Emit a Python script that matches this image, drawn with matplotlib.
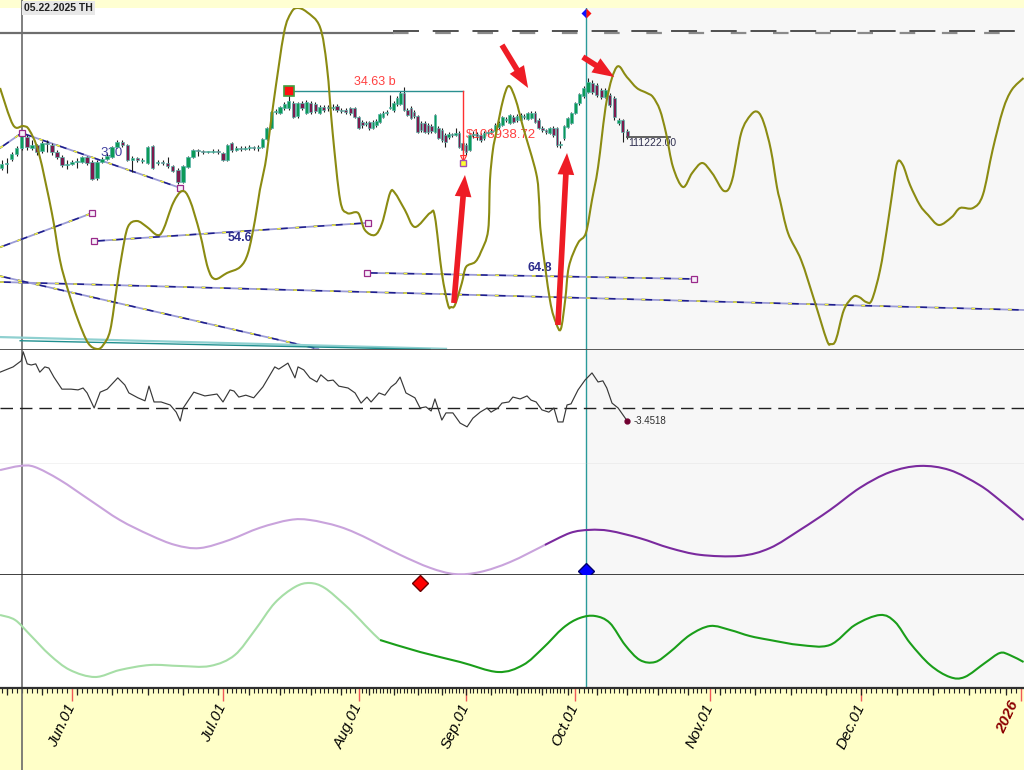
import numpy as np
import matplotlib
matplotlib.use('Agg')
import matplotlib.pyplot as plt
from matplotlib.patches import Rectangle, FancyArrowPatch, PathPatch
from matplotlib.path import Path

plt.rcParams['font.family'] = ['Liberation Sans', 'DejaVu Sans']

# ---------------- data (day 0 = 2025-06-01, prices in thousand USD) ----------------
first_day = -14
opens = [103.6, 104.6, 105.8, 107.0, 108.5, 111.2, 108.5, 109.3, 107.8, 109.7,
         109.3, 107.5, 106.3, 104.3, 104.6, 105.1, 105.1, 106.3, 105.1, 101.1,
         105.1, 105.8, 106.3, 108.8, 110.0, 109.3, 105.6, 106.1, 105.3, 104.8,
         109.0, 104.8, 105.1, 104.8, 104.1, 103.1, 100.1, 103.8, 106.3, 108.0,
         107.8, 107.5, 107.5, 107.8, 107.3, 105.6, 109.7, 108.0, 108.5, 108.3,
         108.5, 108.8, 108.5, 108.8, 110.7, 113.4, 117.4, 117.1, 118.4, 118.4,
         119.6, 116.4, 119.6, 117.1, 119.6, 119.3, 117.1, 118.6, 118.4, 118.4,
         118.8, 117.9, 117.9, 118.4, 118.4, 116.1, 114.9, 114.4, 114.9, 113.4,
         114.2, 114.9, 116.1, 117.1, 118.4, 117.9, 119.3, 119.3, 122.0, 117.9,
         118.4, 117.4, 116.4, 114.7, 114.7, 114.2, 113.9, 112.5, 113.4, 112.9,
         111.7, 111.2, 112.0, 111.7, 112.2, 109.7, 109.3, 108.0, 111.7, 112.0,
         111.7, 111.0, 112.2, 112.5, 112.7, 113.7, 114.2, 115.4, 114.7, 116.1,
         115.4, 115.4, 116.4, 115.7, 115.9, 117.1, 115.4, 113.4, 112.9, 112.2,
         113.4, 113.4, 109.3, 110.9, 113.7, 114.7, 117.1, 119.6, 121.3, 122.3,
         124.5, 124.0, 122.8, 121.1, 121.6, 120.8, 114.7, 115.4, 112.7]
highs = [105.6, 106.1, 107.5, 109.0, 112.2, 111.7, 110.5, 109.5, 110.2, 110.5,
         109.7, 108.0, 106.8, 105.6, 105.6, 106.1, 106.5, 106.5, 105.6, 105.6,
         106.3, 107.3, 109.0, 110.5, 110.5, 109.5, 106.5, 106.3, 106.1, 109.0,
         109.3, 105.6, 105.6, 106.3, 104.3, 103.6, 104.3, 106.5, 108.3, 108.3,
         108.0, 107.8, 108.3, 108.3, 107.5, 109.5, 110.0, 109.0, 109.0, 109.0,
         109.3, 109.0, 109.3, 111.0, 113.7, 117.6, 118.1, 118.8, 119.8, 122.8,
         120.1, 119.8, 120.1, 120.3, 120.1, 119.8, 119.1, 119.1, 119.1, 119.3,
         119.3, 118.4, 118.4, 118.6, 118.6, 116.4, 115.4, 115.2, 115.2, 115.4,
         115.6, 117.1, 117.6, 117.9, 121.6, 120.1, 121.3, 122.5, 123.5, 118.4,
         118.8, 117.9, 116.6, 115.2, 115.2, 114.7, 114.4, 116.9, 113.9, 113.4,
         112.2, 112.5, 112.2, 113.4, 112.7, 110.2, 109.7, 111.9, 112.7, 112.5,
         112.2, 112.7, 112.9, 113.4, 114.7, 115.2, 116.4, 116.1, 116.9, 116.6,
         116.9, 117.1, 116.9, 117.4, 117.6, 117.6, 115.9, 113.9, 113.2, 113.7,
         113.9, 113.7, 110.2, 114.2, 116.1, 117.4, 119.8, 122.0, 123.8, 125.7,
         125.2, 124.5, 123.3, 123.3, 122.0, 121.3, 115.9, 115.7, 113.2]
lows = [103.1, 102.4, 105.3, 106.5, 108.0, 108.0, 108.0, 106.8, 107.3, 107.5,
        106.8, 105.8, 103.8, 103.4, 104.3, 103.6, 104.8, 104.3, 100.6, 100.6,
        104.8, 105.6, 106.1, 108.5, 108.8, 105.3, 102.6, 105.1, 104.8, 104.6,
        103.4, 104.3, 104.3, 103.6, 102.6, 99.6, 99.9, 103.6, 106.1, 106.5,
        107.0, 107.3, 107.3, 107.0, 105.3, 105.3, 107.5, 107.8, 107.8, 108.0,
        108.0, 108.0, 107.8, 108.5, 110.5, 113.2, 116.9, 116.9, 117.9, 117.9,
        115.9, 115.9, 117.9, 116.9, 116.9, 117.1, 116.9, 117.4, 117.6, 117.9,
        117.4, 117.1, 116.9, 116.6, 115.9, 113.2, 113.4, 113.9, 112.9, 113.2,
        113.7, 114.7, 115.9, 116.6, 118.1, 117.4, 118.8, 119.1, 117.6, 116.4,
        115.6, 115.9, 112.2, 112.5, 112.2, 112.0, 112.2, 112.2, 110.7, 110.0,
        108.8, 110.7, 111.2, 111.5, 108.5, 107.3, 106.8, 107.8, 111.0, 110.5,
        110.0, 110.5, 111.5, 112.0, 112.5, 113.2, 113.9, 114.9, 114.4, 114.7,
        114.9, 115.2, 115.7, 115.4, 115.7, 114.7, 113.2, 112.5, 112.0, 112.0,
        111.2, 108.8, 108.5, 110.5, 113.4, 114.4, 116.9, 119.1, 120.8, 122.0,
        121.8, 121.1, 120.6, 120.8, 118.6, 115.4, 114.2, 110.0, 110.7]
closes = [104.6, 104.8, 107.0, 108.5, 111.7, 108.8, 109.3, 107.5, 109.7, 109.5,
          107.5, 106.3, 104.3, 104.6, 105.1, 105.3, 106.3, 104.8, 100.9, 105.1,
          105.8, 106.5, 108.8, 110.0, 109.3, 105.6, 106.1, 105.6, 105.6, 108.8,
          103.6, 105.1, 104.8, 104.1, 102.9, 100.1, 104.1, 106.3, 108.0, 107.8,
          107.5, 107.6, 107.8, 107.5, 105.6, 109.3, 108.0, 108.5, 108.3, 108.5,
          108.8, 108.5, 108.8, 110.7, 113.4, 117.4, 117.6, 118.6, 119.3, 120.1,
          116.1, 119.6, 118.4, 119.8, 117.4, 117.6, 118.6, 117.9, 118.3, 118.6,
          117.9, 117.6, 117.4, 117.1, 116.1, 113.4, 114.2, 114.7, 113.4, 114.9,
          115.2, 116.9, 117.1, 117.4, 118.6, 119.6, 120.8, 122.0, 117.9, 116.6,
          115.9, 116.4, 112.5, 112.9, 112.5, 112.5, 112.7, 116.6, 111.0, 110.5,
          110.0, 112.0, 111.7, 112.2, 108.8, 108.0, 107.5, 111.7, 112.0, 111.5,
          110.5, 112.2, 112.5, 112.7, 114.2, 114.7, 116.1, 115.7, 116.6, 114.9,
          116.4, 116.6, 116.1, 117.1, 117.1, 114.9, 113.4, 112.9, 112.5, 113.4,
          111.7, 109.3, 109.5, 113.9, 115.9, 117.1, 119.6, 121.8, 123.3, 124.8,
          122.3, 121.6, 121.1, 122.8, 119.1, 116.1, 115.4, 112.5, 111.2]
last_price = 111222.00

# cycle forecast line drawn over the price pane
olive_days = [-14.3, -11.7, -9.7, -8.5, -6.6, -4.0, -2.4, -0.8, 1.2, 3.2,
              5.0, 6.2, 7.6, 8.9, 9.9, 11.1, 12.9, 14.9, 16.9, 18.1,
              20.1, 21.9, 23.4, 25.4, 27.0, 28.4, 30.9, 33.9, 35.7, 37.3,
              38.4, 39.6, 40.3, 41.6, 43.9, 45.5, 46.9, 49.1, 52.1, 53.7,
              55.0, 56.7, 58.3, 60.8, 62.7, 65.6, 67.7, 70.0, 71.4, 74.3,
              77.2, 81.6, 83.0, 85.0, 86.8, 87.7, 88.8, 90.8, 92.0, 94.5,
              96.1, 98.1, 98.6, 99.4, 100.3, 102.2, 103.8, 105.7, 107.7, 111.3,
              112.1, 112.6, 115.1, 116.8, 118.1, 119.3, 120.3, 122.7, 124.5, 125.9,
              127.3, 129.3, 131.6, 133.9, 136.2, 138.5, 139.9, 141.5, 142.9, 144.5,
              146.8, 148.9, 151.2, 153.4, 155.8, 157.4, 159.2, 161.1, 162.5, 163.7,
              165.1, 166.3, 166.9, 168.5, 171.1, 173.7, 176.2, 177.0, 178.0, 179.6,
              181.4, 182.6, 184.0, 185.1, 186.7, 188.0, 189.0, 190.0, 191.1, 192.5,
              194.4, 196.0, 198.1, 200.6, 202.2, 204.7, 206.6, 208.5, 210.5, 212.2,
              214.5]
olive_vals = [92, 55, 54, 50, 27, -33, -80, -110, -140, -163,
              -169, -165, -150, -107, -75, -47, -41, -47, -55, -50,
              -23, -11, -20, -53, -88, -99, -93, -87, -73, -40,
              -10, 15, 37, 80, 147, 167, 172, 168, 153, 113,
              47, -20, -33, -33, -50, -55, -43, -13, -13, -30,
              -47, -33, -37, -93, -125, -127, -125, -103, -87, -82,
              -72, -50, 0, 30, 47, 80, 94, 80, 53, 7,
              -20, -53, -120, -143, -149, -120, -87, -63, -53, -20,
              13, 80, 113, 103, 92, 87, 83, 70, 47, 13,
              -7, 7, 17, 7, -11, 0, 47, 65, 68, 57,
              30, -7, -20, -53, -80, -120, -160, -164, -160, -130,
              -117, -117, -122, -120, -90, -50, -15, 17, 15, -5,
              -25, -35, -45, -37, -28, -28, -15, 30, 70, 90,
              102]

# oscillator pane
osc_days = [-14.3, -11.7, -10.1, -9.7, -8.9, -8.1, -7.2, -6.4, -5.4, -4.6,
            -3.6, -2.0, -0.2, 1.2, 2.2, 3.0, 4.4, 5.6, 7.0, 9.1,
            10.5, 11.3, 13.1, 14.5, 15.3, 16.3, 17.7, 19.5, 20.7, 21.5,
            22.1, 24.2, 26.4, 28.8, 30.0, 31.6, 32.5, 33.6, 35.2, 37.0,
            39.1, 41.8, 42.7, 44.8, 46.4, 47.1, 48.4, 49.8, 51.4, 52.3,
            53.9, 55.1, 56.4, 58.5, 60.1, 61.6, 63.3, 64.5, 66.8, 68.5,
            70.3, 71.7, 72.9, 74.6, 77.2, 78.7, 80.4, 81.9, 83.0, 85.0,
            86.2, 88.2, 90.3, 92.3, 93.9, 95.9, 97.8, 98.9, 100.8, 101.9,
            103.8, 104.9, 106.9, 108.8, 109.9, 111.3, 112.9, 114.8, 116.2, 117.3,
            118.7, 119.8, 120.9, 122.7, 124.3, 125.9, 127.3, 128.4, 129.3, 130.5,
            131.9, 134.0]
osc_vals = [9.5, 10.9, 12.5, 14.9, 11.7, 11.4, 11.7, 9.5, 10.9, 10.6,
            8.2, 5.0, 5.0, 4.8, 5.3, 4.0, 0.0, 4.2, 5.0, 8.0,
            6.1, 4.0, 2.7, 1.9, 5.8, 1.6, 1.6, 0.8, -1.1, -3.45,
            0.0, 4.2, 3.2, 3.7, 1.6, 4.8, 4.5, 2.9, 3.4, 2.7,
            5.6, 10.9, 10.3, 11.9, 8.0, 10.9, 10.1, 8.0, 6.9, 8.8,
            7.2, 7.4, 5.8, 5.3, 4.0, 1.3, 2.9, 1.6, 4.0, 3.4,
            5.6, 6.6, 8.2, 4.0, 2.7, 0.0, 0.3, -0.8, 2.4, -3.2,
            -1.3, -1.3, -4.0, -5.0, -2.7, -1.1, 0.0, -1.1, 0.0, 1.3,
            1.6, 2.9, 2.4, 3.2, 2.1, 1.6, -0.5, -1.1, 0.0, -3.7,
            -3.7, 0.8, 1.1, 4.8, 7.4, 9.3, 6.9, 7.2, 5.3, 1.3,
            0.0, -3.4518]

# dominant cycle pane (purple)
cycle_days = [-14.3, -10.3, -7.4, -2.4, 3.6, 9.5, 15.5, 20.5, 25.4, 31.6,
              38.4, 45.2, 49.8, 56.6, 64.2, 72.9, 81.6, 88.8, 95.9, 104.1,
              113.7, 120.6, 125.4, 130.0, 136.9, 143.8, 150.7, 159.0, 164.9, 170.9,
              176.8, 182.8, 188.6, 194.4, 200.2, 206.0, 209.9, 214.5]
cycle_vals = [0.96, 1.04, 1.02, 0.77, 0.38, 0.0, -0.29, -0.48, -0.54, -0.38,
              -0.15, 0.0, 0.0, -0.13, -0.38, -0.67, -0.92, -1.04, -1.0, -0.81,
              -0.48, -0.25, -0.19, -0.21, -0.35, -0.54, -0.67, -0.69, -0.54, -0.19,
              0.19, 0.62, 0.92, 1.04, 0.96, 0.67, 0.38, 0.0]
cycle_split = 113.7

# composite cycle pane (green)
green_days = [-14.3, -11.3, -8.3, -4.4, -0.4, 4.6, 9.5, 15.5, 21.5, 27.4,
              32.7, 37.3, 41.8, 46.4, 49.8, 53.2, 57.8, 62.7, 67.1, 78.7,
              90.3, 100.8, 107.7, 113.2, 118.7, 123.1, 126.6, 130.0, 133.5, 136.9,
              140.4, 143.8, 148.4, 153.0, 157.0, 160.9, 164.9, 170.9, 176.8, 181.8,
              186.7, 189.6, 192.5, 196.4, 200.2, 203.1, 207.0, 209.9, 211.8, 214.5]
green_vals = [0.3, 0.2, -0.1, -0.5, -0.8, -0.94, -0.8, -0.7, -0.72, -0.72,
              -0.5, 0.0, 0.54, 0.86, 0.94, 0.84, 0.5, 0.1, -0.2, -0.44,
              -0.64, -0.84, -0.7, -0.36, 0.04, 0.24, 0.28, 0.14, -0.3, -0.6,
              -0.64, -0.44, -0.1, 0.08, 0.0, -0.12, -0.2, -0.3, -0.3, 0.1,
              0.3, 0.16, -0.26, -0.7, -0.94, -0.94, -0.66, -0.46, -0.5, -0.64]
green_split = 67.1

month_days = [0, 30, 61, 92, 122, 153, 183, 214]
month_labels = ['Jun.01', 'Jul.01', 'Aug.01', 'Sep.01', 'Oct.01', 'Nov.01', 'Dec.01', '2026']
marked_day = -10      # 05.22.2025
cursor_day = 124.5

# ---------------- layout ----------------
W, H = 1024, 770
fig = plt.figure(figsize=(W / 100, H / 100), dpi=100)
fig.patches.append(Rectangle((0, 0), 1, 82 / H, transform=fig.transFigure,
                             facecolor='#ffffc8', edgecolor='none', zorder=-5))
fig.patches.append(Rectangle((0, 1 - 8 / H), 1, 8 / H, transform=fig.transFigure,
                             facecolor='#ffffd2', edgecolor='none', zorder=-5))


def pane(top, bottom, **kw):
    return fig.add_axes([0, (H - bottom) / H, 1, (bottom - top) / H], **kw)


def smooth_line(ax, xs, ys, **kw):
    # draw a curve through the points as cubic Bezier segments (Catmull-Rom handles)
    p = np.column_stack([xs, ys]).astype(float)
    n = len(p)
    verts = [p[0]]
    codes = [Path.MOVETO]
    for i in range(n - 1):
        p0 = p[i - 1] if i > 0 else p[i]
        p3 = p[i + 2] if i + 2 < n else p[i + 1]
        verts += [p[i] + (p[i + 1] - p0) / 6, p[i + 1] - (p3 - p[i]) / 6, p[i + 1]]
        codes += [Path.CURVE4] * 3
    ax.add_patch(PathPatch(Path(verts, codes), fill=False, **kw))


ax_main = pane(8, 350)
ax_osc = pane(350, 464, sharex=ax_main)
ax_cyc = pane(464, 575, sharex=ax_main)
ax_grn = pane(575, 688, sharex=ax_main)
ax_olive = ax_main.twinx()
panes = [ax_main, ax_osc, ax_cyc, ax_grn]

# the time axis of the platform is not linear: month widths differ
warp_days = [-40, 0, 30, 61, 92, 122, 153, 183, 214, 260]
warp_pos = [-129.3, 72, 223, 359, 466, 575, 710, 861, 1021, 1258.4]
fwd = lambda d: np.interp(d, warp_days, warp_pos)
inv = lambda p: np.interp(p, warp_pos, warp_days)
ax_main.set_xscale('function', functions=(fwd, inv))
ax_main.set_xlim(float(inv(0)), float(inv(1024)))

for ax in panes + [ax_olive]:
    for s in ax.spines.values():
        s.set_visible(False)
    ax.tick_params(left=False, labelleft=False, right=False, labelright=False,
                   bottom=False, labelbottom=False)
for ax in panes:
    ax.axvspan(cursor_day, 300, color='#f7f7f7', zorder=0, lw=0)
    ax.axvline(marked_day, color='#6a6a6a', lw=1.2, zorder=1)
    ax.axvline(cursor_day, color='#2a9a9a', lw=1.0, zorder=1)

for ax, col, lw in [(ax_main, '#4a4a4a', 1.3), (ax_osc, '#c4c4c4', 1.0),
                    (ax_cyc, '#303030', 1.3), (ax_grn, '#303030', 1.6)]:
    ax.spines['bottom'].set_visible(True)
    ax.spines['bottom'].set_color(col)
    ax.spines['bottom'].set_linewidth(lw)

# ---------------- price pane ----------------
ax_main.set_ylim(58.82, 142.95)
days = np.arange(first_day, first_day + len(closes))
o = np.array(opens)
c = np.array(closes)
up = c >= o
ax_main.vlines(days, lows, highs, color='#1e1e1e', lw=0.8, zorder=3)
ax_main.bar(days, np.maximum(np.abs(c - o), 0.18), bottom=np.minimum(o, c), width=0.72,
            color=np.where(up, '#0c9a58', '#7d1a4e'), edgecolor='#5ab5aa', lw=0.5, zorder=4)

# horizontal levels near the top
level_lo, level_hi = 136.8, 137.3
ax_main.plot([-20, 70.8], [level_lo, level_lo], color='#6e6e6e', lw=1.6, zorder=2)
ax_main.plot([70.8, 260], [level_lo, level_lo], color='#8a8a8a', lw=1.6, zorder=2,
             dashes=(7, 12), dash_capstyle='butt')
ax_main.plot([70.8, 260], [level_hi, level_hi], color='#222222', lw=1.1, zorder=2,
             dashes=(17, 9), dash_capstyle='butt')


def trend(xs, ys, ends=()):
    ax_main.plot(xs, ys, color='#9b9bd6', lw=1.3, zorder=2)
    ax_main.plot(xs, ys, color='#1e1e8c', lw=1.1, dashes=(7, 5), zorder=2)
    ax_main.plot(xs, ys, color='#f5f53c', lw=1.1, dashes=(2.5, 9.5), zorder=2)
    for i in ends:
        ax_main.plot(xs[i], ys[i], ls='none', marker='s', ms=4, mfc='#f6f0fa',
                     mec='#9a2a8a', mew=0.9, zorder=5)


trend([-14.3, 4.0], [84.1, 92.5], ends=[1])
trend([4.4, 63.6], [85.6, 90.1], ends=[0, 1])
trend([63.3, 149.3], [77.8, 76.3], ends=[0, 1])
trend([-14.3, 214.5], [75.55, 68.66])
trend([-14.3, 51.7], [77.0, 59.1])
trend([-14.3, -10], [108.5, 112.2])
trend([-10, 21.5], [112.2, 98.7], ends=[0, 1])
ax_main.plot([-14.3, 86.2], [62.0, 59.1], color='#8fd0d0', lw=1.6, zorder=2)
ax_main.plot([-10.3, 81.6], [61.1, 58.95], color='#1f8f8f', lw=1.0, zorder=2)

ax_main.text(7.9, 107.3, '310', color='#4040a0', fontsize=9.5, ha='center', va='center', zorder=3.5)
ax_main.text(33.9, 86.4, '54.6', color='#2c2c8c', fontsize=9, weight='bold', ha='center', va='center')
ax_main.text(112.4, 79.0, '64.8', color='#2c2c8c', fontsize=9, weight='bold', ha='center', va='center')

# swing measurement
ax_main.plot([45, 91], [122.5, 122.5], color='#2a9090', lw=1.0, zorder=5)
ax_main.plot([91, 91], [122.5, 105.3], color='#ff3030', lw=1.0, zorder=5)
ax_main.plot(91, 106.0, ls='none', marker='v', ms=5, mfc='none', mec='#ff3030', mew=0.8, zorder=5)
ax_main.plot(91, 104.8, ls='none', marker='s', ms=5, mfc='#ffff30', mec='#a050b0', mew=1, zorder=5)
ax_main.plot(45, 122.5, ls='none', marker='s', ms=7, mfc='#ff1010', mec='#40a040', mew=1.2, zorder=6)
ax_main.text(65.6, 124.75, '34.63 b', color='#ff4040', fontsize=9, ha='center', va='center')
ax_main.text(92.0, 111.7, '$108938.72', color='#ff4040', fontsize=9.5, ha='left', va='center', zorder=3.5)

ax_main.plot([134, 143.8], [111.22, 111.22], color='#555555', lw=1.3, zorder=5)
ax_main.text(134.2, 110.97, f'{last_price:.2f}', color='#303050', fontsize=7.5, ha='left', va='top', zorder=5)

# forecast curve + annotations on a twin scale
ax_olive.set_ylim(-170, 172)
smooth_line(ax_olive, olive_days, olive_vals, edgecolor='#8b8b12', lw=1.5, zorder=3)

arrow_tails = [(88.5, -123), (117.3, -145), (101.9, 135), (123.8, 123)]
arrow_heads = [(91.7, 5), (119.8, 27), (109.1, 92), (131.0, 103)]
for t, h in zip(arrow_tails, arrow_heads):
    ax_olive.add_patch(FancyArrowPatch(t, h, arrowstyle='simple,head_length=1.3,head_width=1.0,tail_width=0.34',
                                       mutation_scale=12, color='#ee1c25', lw=0, zorder=8,
                                       shrinkA=0, shrinkB=0))
ax_olive.plot(cursor_day, 167, ls='none', marker='D', ms=5, fillstyle='left', mfc='#1010ff',
              mfcalt='#ff1010', mec='none', clip_on=False, zorder=9)
ax_olive.plot([marked_day, marked_day], [1, 1.03], transform=ax_olive.get_xaxis_transform(),
              color='#6a6a6a', lw=1.2, clip_on=False)
fig.text(24 / W, 1 - 8 / H, '05.22.2025 TH', fontsize=7.5, weight='bold', ha='left', va='center',
         color='#202020', bbox=dict(boxstyle='square,pad=0.2', fc='#e8e8e8', ec='none'))

# ---------------- oscillator pane ----------------
ax_osc.set_ylim(-14.85, 15.38)
ax_osc.axhline(0, color='#202020', lw=1.0, dashes=(9, 5), zorder=2)
ax_osc.plot(osc_days, osc_vals, color='#383838', lw=0.85, zorder=3)
ax_osc.plot(osc_days[-1], osc_vals[-1], ls='none', marker='o', ms=3.5, color='#700030', zorder=4)
ax_osc.text(osc_days[-1] + 1.4, osc_vals[-1], f'{osc_vals[-1]:.4f}', color='#303030',
            fontsize=7, ha='left', va='center')

# ---------------- dominant cycle pane ----------------
ax_cyc.set_ylim(-1.058, 1.077)
k = np.searchsorted(cycle_days, cycle_split)
smooth_line(ax_cyc, cycle_days[:k + 1], cycle_vals[:k + 1], edgecolor='#c9a3dc', lw=1.5, zorder=3)
smooth_line(ax_cyc, cycle_days[k:], cycle_vals[k:], edgecolor='#7a2a9e', lw=1.5, zorder=3)
ax_cyc.plot(cursor_day, -0.98, ls='none', marker='D', ms=8, mfc='#0000ff', mec='#00006a',
            clip_on=False, zorder=6)

# ---------------- composite cycle pane ----------------
ax_grn.set_ylim(-1.16, 1.1)
k = np.searchsorted(green_days, green_split)
smooth_line(ax_grn, green_days[:k + 1], green_vals[:k + 1], edgecolor='#a6dea6', lw=1.5, zorder=3)
smooth_line(ax_grn, green_days[k:], green_vals[k:], edgecolor='#1a9e1a', lw=1.5, zorder=3)
ax_grn.plot(78.7, 0.94, ls='none', marker='D', ms=8, mfc='#ff0000', mec='#6a0000',
            clip_on=False, zorder=6)
ax_grn.plot([marked_day, marked_day], [-0.74, 0], transform=ax_grn.get_xaxis_transform(),
            color='#6a6a6a', lw=1.2, clip_on=False)

# ---------------- time axis ----------------
ax_grn.tick_params(bottom=True, labelbottom=True)
ax_grn.set_xticks(month_days)
ax_grn.set_xticklabels(month_labels)
ax_grn.set_xticks(np.arange(-14, 215), minor=True)
ax_grn.tick_params(axis='x', which='major', direction='out', length=9, width=1.0,
                   color='#f05858', pad=3, labelsize=11)
ax_grn.tick_params(axis='x', which='minor', direction='out', length=3.5, width=0.8, color='#222222')
for lab in ax_grn.get_xticklabels():
    lab.set_rotation(65)
    lab.set_rotation_mode('anchor')
    lab.set_ha('right')
    lab.set_va('center')
    lab.set_fontstyle('italic')
    if lab.get_text() == '2026':
        lab.set_color('#8b0000')
        lab.set_weight('bold')
        lab.set_va('bottom')
week_days = np.arange(-13, 215, 7)
ax_grn.vlines(week_days, -0.065, 0, transform=ax_grn.get_xaxis_transform(),
              color='#222222', lw=0.9, clip_on=False)

fig.savefig('out.png', dpi=100)
